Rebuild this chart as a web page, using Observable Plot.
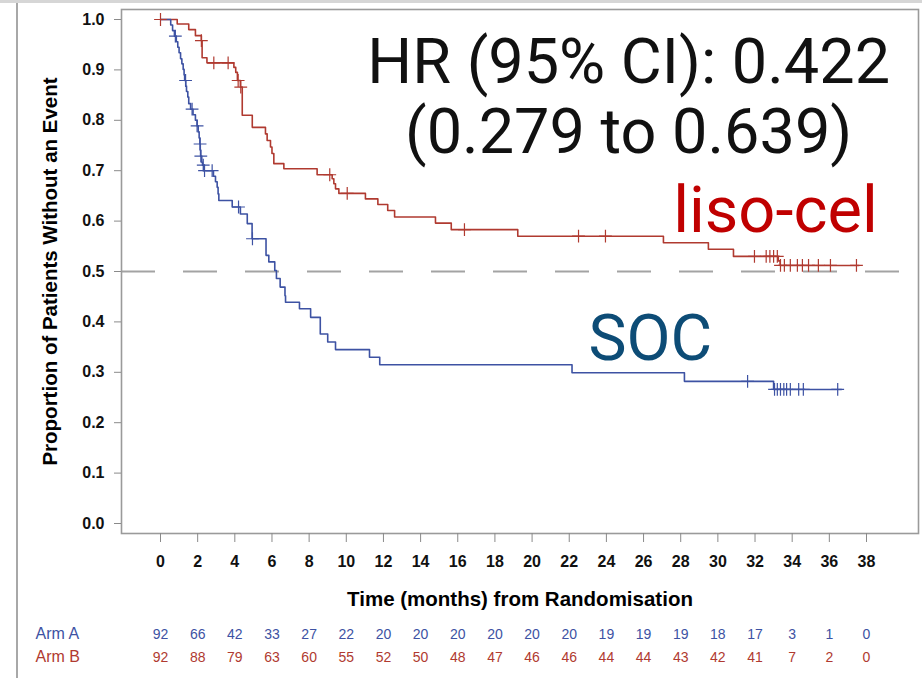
<!DOCTYPE html>
<html><head><meta charset="utf-8">
<script src="https://cdn.jsdelivr.net/npm/d3@7"></script>
<script src="https://cdn.jsdelivr.net/npm/@observablehq/plot@0.6"></script>
<style>
html,body{margin:0;padding:0;background:#fff;}
#wrap{position:relative;width:922px;height:678px;overflow:hidden;background:#fff;}
#chart{position:absolute;left:0;top:0;}
#topbar{position:absolute;left:0;top:0;width:922px;height:3px;background:#d6d6d6;}
#leftline{position:absolute;left:16px;top:3px;width:2px;height:675px;background:#a8a8a8;}
</style></head><body>
<div id="wrap"><div id="chart"></div><div id="topbar"></div><div id="leftline"></div></div>
<script>
// ---- data ----
const tickMonths = [0,2,4,6,8,10,12,14,16,18,20,22,24,26,28,30,32,34,36,38];
const yTicks = [0,0.1,0.2,0.3,0.4,0.5,0.6,0.7,0.8,0.9,1.0];
const atRiskA = [92,66,42,33,27,22,20,20,20,20,20,20,19,19,19,18,17,3,1,0];
const atRiskB = [92,88,79,63,60,55,52,50,48,47,46,46,44,44,43,42,41,7,2,0];

// liso-cel (Arm B): step times (months) and survival after each step
const armBTime = [0,0.9,1.52,1.88,2.2,2.24,2.5,3.95,4.05,4.14,4.3,4.4,4.94,5.65,5.74,5.92,6.0,6.1,6.64,8.43,9.24,9.33,9.42,9.6,11.03,11.7,12.23,12.6,14.8,15.65,19.23,27.07,29.49,30.84,33.25,33.35,37.6];
const armBSurv = [1.0,0.991,0.980,0.968,0.958,0.924,0.914,0.905,0.895,0.879,0.866,0.810,0.786,0.773,0.760,0.747,0.734,0.714,0.704,0.692,0.684,0.674,0.664,0.655,0.644,0.633,0.621,0.608,0.596,0.583,0.570,0.557,0.544,0.530,0.521,0.512,0.512];
const armBCensor = [0,2.2,2.87,3.64,4.18,4.32,9.11,10.05,16.36,22.5,23.95,31.97,32.6,32.8,33.0,33.2,33.37,33.58,33.9,34.28,34.55,34.88,35.41,36.06,37.46];

// SOC (Arm A)
const armATime = [0,0.55,0.65,0.75,0.85,0.93,1.0,1.08,1.15,1.22,1.27,1.30,1.36,1.40,1.47,1.52,1.62,1.75,1.88,1.97,2.03,2.08,2.12,2.14,2.16,2.22,2.26,2.33,2.85,2.96,3.05,3.1,3.14,3.86,4.3,4.67,4.93,5.68,5.83,6.15,6.24,6.44,6.7,6.73,7.48,8.08,8.6,9.0,9.42,11.25,11.8,22.15,28.2,33.0,36.65];
const armASurv = [1.0,0.989,0.978,0.967,0.956,0.945,0.934,0.922,0.912,0.901,0.890,0.879,0.868,0.857,0.846,0.833,0.822,0.811,0.800,0.789,0.777,0.765,0.753,0.741,0.729,0.717,0.711,0.700,0.689,0.678,0.667,0.654,0.641,0.628,0.614,0.595,0.565,0.532,0.519,0.502,0.486,0.469,0.452,0.439,0.426,0.409,0.376,0.360,0.345,0.330,0.315,0.299,0.282,0.266,0.266];
const armACensor = [0.8,1.35,1.7,1.97,2.13,2.17,2.3,2.37,2.78,4.2,4.95,31.6,33.05,33.2,33.37,33.55,33.7,33.9,34.35,34.6,36.45];

const seriesNames = ["liso-cel","SOC"];
const hrLines = ["HR (95% CI): 0.422","(0.279 to 0.639)"];

// ---- build tables ----
const steps = (T,S) => T.map((t,i)=>({t, s:S[i]}));
const survAt = (T,S,t) => { let v = S[0]; for (let i=0;i<T.length;i++){ if (T[i] <= t) v = S[i]; } return v; };
const censorRows = (C,T,S) => C.map(t => ({t, s: survAt(T,S,t)}));
const stepsB = steps(armBTime, armBSurv), stepsA = steps(armATime, armASurv);
const censB = censorRows(armBCensor, armBTime, armBSurv), censA = censorRows(armACensor, armATime, armASurv);
const riskRows = tickMonths.map((t,i)=>({t, a: atRiskA[i], b: atRiskB[i]}));

const RED = "#b03a30", BLUE = "#3d52a3";
const NARROW = "'Liberation Sans Narrow', 'Liberation Sans', sans-serif";

const chart = Plot.plot({
  width: 922, height: 678,
  marginLeft: 121, marginRight: 4, marginTop: 9, marginBottom: 145,
  insetLeft: 39, insetRight: 52, insetTop: 10, insetBottom: 10,
  x: {domain: [0,38]},
  y: {domain: [0,1]},
  style: {fontFamily: "'Liberation Sans', Arial, sans-serif", background: "white", overflow: "visible"},
  marks: [
    Plot.ruleY([0.5], {stroke: "#a3a3a3", strokeWidth: 2, strokeDasharray: "34,28"}),
    Plot.line(stepsB, {x: "t", y: "s", curve: "step-after", stroke: RED, strokeWidth: 1.6}),
    Plot.line(stepsA, {x: "t", y: "s", curve: "step-after", stroke: BLUE, strokeWidth: 1.6}),
    Plot.dot(censB, {x: "t", y: "s", symbol: "plus", r: 4.2, stroke: RED, strokeWidth: 1.2}),
    Plot.dot(censA, {x: "t", y: "s", symbol: "plus", r: 4.2, stroke: BLUE, strokeWidth: 1.2}),
    Plot.frame({stroke: "#9a9a9a", strokeWidth: 1.6}),
    Plot.axisY({ticks: yTicks, tickFormat: d3.format(".1f"), tickSize: 7, tickPadding: 10, fontSize: 16, fontWeight: "bold", fill: "#111", stroke: "#8a8a8a", label: null}),
    Plot.axisX({ticks: tickMonths, tickFormat: d3.format("d"), tickSize: 9, tickPadding: 13, fontSize: 16, fontWeight: "bold", fill: "#111", stroke: "#8a8a8a", label: null}),
    Plot.text(["Time (months) from Randomisation"], {frameAnchor: "bottom", dy: 72, fontSize: 20.5, fontWeight: "bold", fill: "#000"}),
    Plot.text(["Proportion of Patients Without an Event"], {frameAnchor: "left", textAnchor: "middle", dx: -71, rotate: -90, fontSize: 20.5, fontWeight: "bold", fill: "#000"}),
    // at-risk table
    Plot.text(riskRows, {x: "t", text: "a", frameAnchor: "bottom", dy: 105, fontSize: 14, fill: BLUE, fontFamily: NARROW}),
    Plot.text(riskRows, {x: "t", text: "b", frameAnchor: "bottom", dy: 128, fontSize: 14, fill: RED, fontFamily: NARROW}),
    Plot.text(["Arm A"], {frameAnchor: "bottom-left", dx: -86, dy: 105, textAnchor: "start", fontSize: 16, fill: BLUE, fontFamily: NARROW}),
    Plot.text(["Arm B"], {frameAnchor: "bottom-left", dx: -86, dy: 128, textAnchor: "start", fontSize: 16, fill: RED, fontFamily: NARROW}),
    // annotations
    Plot.text([hrLines.join("\n")], {x: 25.2, y: 0.736, lineAnchor: "bottom", lineHeight: 1.1, fontSize: 63, fill: "#111", fontFamily: "Roboto, sans-serif"}),
    Plot.text([seriesNames[0]], {x: 33.1, y: 0.579, lineAnchor: "bottom", fontSize: 65, fill: "#c00000", fontFamily: "Roboto, sans-serif"}),
    Plot.text([seriesNames[1]], {x: 26.37, y: 0.325, lineAnchor: "bottom", fontSize: 64, fill: "#0d4c76", fontFamily: "Roboto, sans-serif"})
  ]
});
document.getElementById("chart").appendChild(chart);
</script>
</body></html>
